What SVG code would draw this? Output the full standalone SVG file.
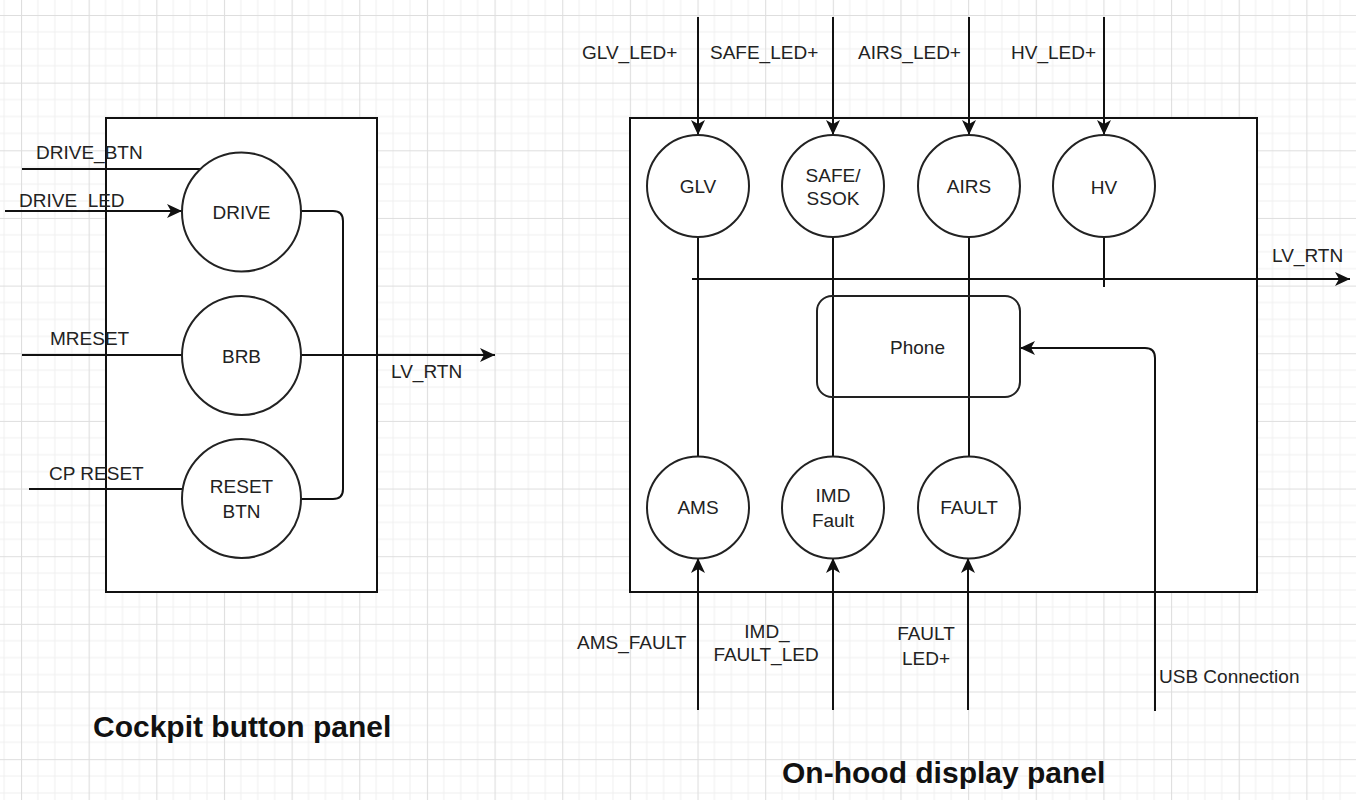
<svg xmlns="http://www.w3.org/2000/svg" width="1356" height="800" viewBox="0 0 1356 800">
<defs>
<pattern id="grid" patternUnits="userSpaceOnUse" x="21" y="15" width="67.65" height="67.65">
<path d="M16.91,0V67.65M33.83,0V67.65M50.74,0V67.65M0,16.91H67.65M0,33.83H67.65M0,50.74H67.65" stroke="#efefef" stroke-width="1" fill="none"/>
<path d="M0.5,0V67.65M0,0.5H67.65" stroke="#dedede" stroke-width="1.2" fill="none"/>
</pattern>
<marker id="arr" markerUnits="userSpaceOnUse" markerWidth="16" markerHeight="14" refX="15" refY="7" orient="auto">
<path d="M0,0 L15,7 L0,14 L4,7 Z" fill="#111"/>
</marker>
<style>
.panel{fill:#fff;stroke:#111;stroke-width:2}
.node{fill:#fff;stroke:#222;stroke-width:2}
.phone{fill:none;stroke:#222;stroke-width:2}
.wire{fill:none;stroke:#111;stroke-width:2}
.arrow{marker-end:url(#arr)}
text{font-family:"Liberation Sans",Arial,sans-serif;font-size:19px;fill:#222}
.c{text-anchor:middle}
.title{font-weight:bold;font-size:30px;fill:#111}
</style>
</defs>
<rect width="1356" height="800" fill="#fff"/>
<rect width="1356" height="800" fill="url(#grid)"/>

<g id="cockpit-panel"><rect class="panel" x="106" y="118" width="271" height="474"/></g>
<g id="onhood-panel"><rect class="panel" x="630" y="118" width="627" height="474"/></g>

<g id="connectors">
<path class="wire" d="M22,169H201"/>
<path class="wire arrow" d="M5,211H182"/>
<path class="wire" d="M22,355H190"/>
<path class="wire" d="M29,489H183"/>
<path class="wire arrow" d="M301,355H495"/>
<path class="wire" d="M301,211H333Q343,211 343,221V489Q343,499 333,499H301"/>
<path class="wire arrow" d="M698,17V135"/>
<path class="wire arrow" d="M833,17V135"/>
<path class="wire arrow" d="M969,17V135"/>
<path class="wire arrow" d="M1104,17V135"/>
<path class="wire" d="M698,237V457"/>
<path class="wire" d="M833,237V457"/>
<path class="wire" d="M969,237V457"/>
<path class="wire" d="M1104,237V287"/>
<path class="wire arrow" d="M692,279H1350"/>
<path class="wire arrow" d="M698,710V558"/>
<path class="wire arrow" d="M833,710V558"/>
<path class="wire arrow" d="M968,710V558"/>
<path class="wire arrow" d="M1155,711V358Q1155,348 1145,348H1020"/>
</g>

<g id="drive"><circle class="node" cx="241.5" cy="212" r="59.5"/><text class="c" x="241.5" y="219">DRIVE</text></g>
<g id="brb"><circle class="node" cx="241.5" cy="355.5" r="59.5"/><text class="c" x="241.5" y="363">BRB</text></g>
<g id="reset-btn"><circle class="node" cx="241.5" cy="498.5" r="59.5"/><text class="c" x="241.5" y="493">RESET</text><text class="c" x="241.5" y="518">BTN</text></g>

<g id="glv"><circle class="node" cx="698" cy="186" r="51"/><text class="c" x="698" y="193">GLV</text></g>
<g id="safe"><circle class="node" cx="833" cy="186" r="51"/><text class="c" x="833" y="182">SAFE/</text><text class="c" x="833" y="205">SSOK</text></g>
<g id="airs"><circle class="node" cx="969" cy="186" r="51"/><text class="c" x="969" y="193">AIRS</text></g>
<g id="hv"><circle class="node" cx="1104" cy="186" r="51"/><text class="c" x="1104" y="194">HV</text></g>
<g id="phone"><rect class="phone" x="817" y="296" width="203" height="101" rx="15"/><text class="c" x="917.5" y="354">Phone</text></g>
<g id="ams"><circle class="node" cx="698" cy="507.5" r="51"/><text class="c" x="698" y="514">AMS</text></g>
<g id="imd"><circle class="node" cx="833" cy="507.5" r="51"/><text class="c" x="833" y="502">IMD</text><text class="c" x="833" y="527">Fault</text></g>
<g id="fault"><circle class="node" cx="969" cy="507.5" r="51"/><text class="c" x="969" y="514">FAULT</text></g>

<g id="labels">
<text x="36" y="159">DRIVE_BTN</text>
<text x="19" y="207">DRIVE_LED</text>
<text x="50" y="345">MRESET</text>
<text x="49" y="480">CP RESET</text>
<text x="391" y="378">LV_RTN</text>
<text x="582" y="59">GLV_LED+</text>
<text x="710" y="59">SAFE_LED+</text>
<text x="858" y="59">AIRS_LED+</text>
<text x="1011" y="59">HV_LED+</text>
<text x="1272" y="262">LV_RTN</text>
<text x="577" y="649">AMS_FAULT</text>
<text class="c" x="767" y="638">IMD_</text>
<text class="c" x="766" y="661">FAULT_LED</text>
<text class="c" x="926" y="640">FAULT</text>
<text class="c" x="926" y="665">LED+</text>
<text x="1159" y="683">USB Connection</text>
<text class="title" x="93" y="737">Cockpit button panel</text>
<text class="title" x="782" y="783">On-hood display panel</text>
</g>
</svg>
